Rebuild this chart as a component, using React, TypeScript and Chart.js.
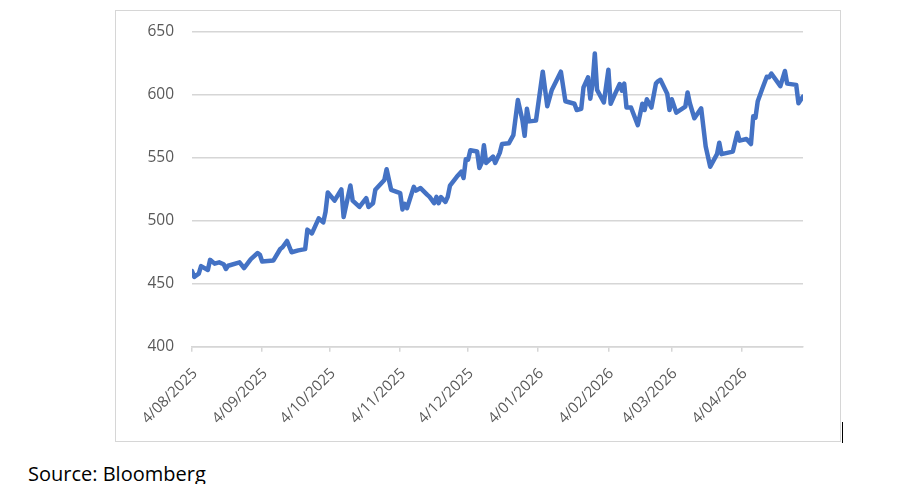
import { useEffect, useRef } from "react";
import { Chart, registerables } from "chart.js";

Chart.register(...registerables);

// x = calendar days after 4 Aug 2025 at each turn of the line
const days = [
  0, 1, 3, 4, 7, 8, 10, 12, 14, 15, 16, 21, 23, 26, 29, 30, 31, 36, 39, 40, 42, 44, 47, 50, 51, 53, 56, 58,
  59, 60, 63, 66, 67, 70, 71, 74, 77, 78, 80, 81, 85, 86, 88, 92, 93, 94, 95, 98, 99, 101, 104, 105, 107,
  108, 109, 110, 112, 113, 114, 117, 119, 120, 121, 122, 123, 126, 127, 128, 129, 130, 133, 134, 136, 137,
  140, 142, 144, 146, 147, 148, 149, 152, 155, 157, 159, 163, 165, 169, 170, 172, 173, 175, 176, 177, 178,
  179, 182, 184, 185, 187, 189, 190, 191, 192, 194, 197, 199, 200, 201, 203, 205, 206, 207, 210, 211, 212,
  214, 218, 219, 220, 222, 225, 227, 229, 232, 233, 234, 239, 241, 242, 245, 247, 248, 249, 250, 252, 254,
  255, 256, 260, 262, 263, 267, 268, 270,
];

const closes = [
  460, 455.5, 458, 464, 461, 469, 466, 467, 465.5, 461.7, 464.3, 467, 462.5, 469.6, 474.4, 473, 467.7, 468.5,
  477.6, 479, 484, 475, 476.5, 477.5, 493, 490, 502, 498.7, 507, 522.5, 516, 525, 503, 528, 516, 511, 518, 511,
  514, 524.6, 532.5, 541, 524.6, 522, 509, 513.5, 510, 527, 524, 526, 520.6, 519, 514, 519, 514, 518.8, 515,
  519, 528, 535, 539, 534, 549, 548.5, 556, 555, 542, 546, 560, 546, 551, 546, 554, 561, 561.6, 568, 596, 580,
  567.5, 589, 579, 579.6, 618.5, 591, 604, 618.5, 595, 593, 588, 589, 606, 614, 597, 609, 633, 604, 594, 620,
  593, 601, 608.7, 603.4, 609, 590, 590, 576, 593, 588, 596.6, 590, 609, 611, 612, 601, 588, 596.6, 586, 590.7,
  602, 593.4, 581.5, 589.4, 559, 543, 553, 562, 553, 555, 570, 563.7, 565, 561, 583, 582, 595, 605, 614.5, 614,
  617, 607, 619, 609, 608, 593.4, 598.7,
];

// monthly date ticks (d/mm/yyyy) and their day offsets
const tickDays = [0, 31, 61, 92, 122, 153, 184, 212, 243];
const tickLabels = [
  "4/08/2025",
  "4/09/2025",
  "4/10/2025",
  "4/11/2025",
  "4/12/2025",
  "4/01/2026",
  "4/02/2026",
  "4/03/2026",
  "4/04/2026",
];

const GRID = "#d6d6d6";
const TEXT = "#595959";

export default function App() {
  const ref = useRef<HTMLCanvasElement | null>(null);

  useEffect(() => {
    if (!ref.current) return;
    const ctx = ref.current.getContext("2d");
    if (!ctx) return;

    const chart = new Chart(ctx, {
      type: "line",
      data: {
        datasets: [
          {
            data: days.map((d, i) => ({ x: d, y: closes[i] })),
            borderColor: "#4472c4",
            borderWidth: 4.5,
            pointRadius: 0,
            tension: 0,
            borderJoinStyle: "round",
            borderCapStyle: "round",
          },
        ],
      },
      options: {
        animation: false,
        responsive: true,
        maintainAspectRatio: false,
        layout: { padding: { left: 0, right: 37, top: 21, bottom: 0 } },
        plugins: { legend: { display: false }, tooltip: { enabled: false } },
        scales: {
          x: {
            type: "linear",
            min: 0,
            max: 270,
            afterBuildTicks: (scale) => {
              scale.ticks = tickDays.map((v) => ({ value: v }));
            },
            afterFit: (scale) => {
              scale.height = 94.3;
            },
            ticks: {
              autoSkip: false,
              minRotation: 45,
              maxRotation: 45,
              padding: 13,
              labelOffset: 3,
              color: TEXT,
              font: { family: "Open Sans", size: 15 },
              callback: (v) => tickLabels[tickDays.indexOf(Number(v))] ?? "",
            },
            grid: {
              drawOnChartArea: false,
              drawTicks: true,
              tickLength: 5,
              color: GRID,
              lineWidth: 1.5,
            },
            border: { display: true, color: GRID, width: 1.5 },
          },
          y: {
            min: 400,
            max: 650,
            afterFit: (scale) => {
              scale.width = 76;
            },
            ticks: {
              stepSize: 50,
              padding: 2,
              color: TEXT,
              font: { family: "Open Sans", size: 15.5 },
            },
            // invisible tick marks hold the labels 18px off the plot
            grid: {
              color: GRID,
              lineWidth: 1.5,
              drawTicks: true,
              tickLength: 16,
              tickColor: "rgba(0,0,0,0)",
            },
            border: { display: false },
          },
        },
      },
    });

    return () => chart.destroy();
  }, []);

  return (
    <div
      style={{
        position: "fixed",
        left: 0,
        top: 0,
        width: 904,
        height: 484,
        background: "#fff",
        overflow: "hidden",
      }}
    >
      <div
        style={{
          position: "absolute",
          left: 115,
          top: 10,
          width: 726,
          height: 432,
          boxSizing: "border-box",
          border: `1.3px solid ${GRID}`,
        }}
      />
      <div style={{ position: "absolute", left: 116, top: 11, width: 724, height: 430 }}>
        <canvas ref={ref} />
      </div>
      <div
        style={{
          position: "absolute",
          left: 842,
          top: 422,
          width: 1,
          height: 21,
          background: "#000",
        }}
      />
      <div
        style={{
          position: "absolute",
          left: 28,
          top: 460,
          fontFamily: "'Open Sans', sans-serif",
          fontSize: 20,
          lineHeight: "27px",
          color: "#000",
          whiteSpace: "nowrap",
        }}
      >
        Source: Bloomberg
      </div>
    </div>
  );
}
